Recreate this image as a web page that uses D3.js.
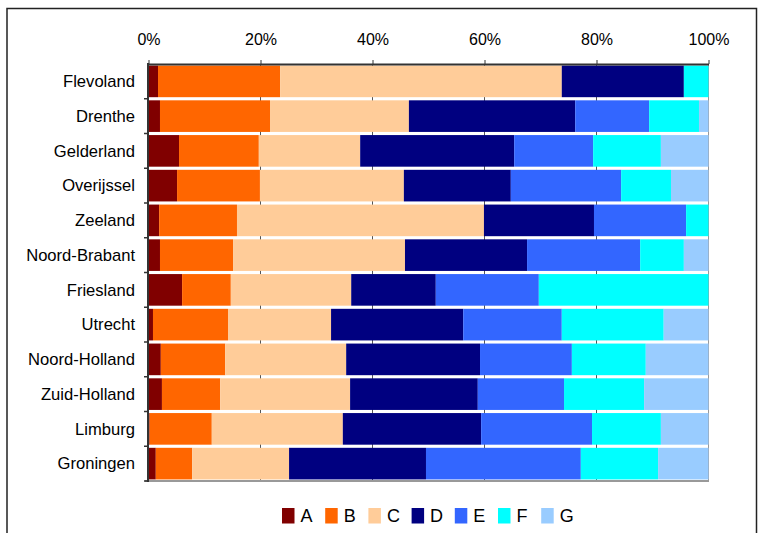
<!DOCTYPE html>
<html>
<head>
<meta charset="utf-8">
<script src="https://cdn.jsdelivr.net/npm/d3@7"></script>
<style>
  html, body { margin: 0; padding: 0; background: #fff; }
  svg { display: block; font-family: "Liberation Sans", Arial, sans-serif; }
</style>
</head>
<body>
<svg id="chart" width="758" height="533"></svg>
<script>
const categories = ["Flevoland","Drenthe","Gelderland","Overijssel","Zeeland","Noord-Brabant","Friesland","Utrecht","Noord-Holland","Zuid-Holland","Limburg","Groningen"];
const seriesNames = ["A","B","C","D","E","F","G"];
const seriesColors = ["#800000","#FF6600","#FFCC99","#000080","#3366FF","#00FFFF","#99CCFF"];
const A = [1.7, 2.05, 5.45, 5.1, 1.9, 2.05, 6.0, 0.8, 2.2, 2.4, 0.2, 1.3];
const B = [21.8, 19.65, 14.25, 14.8, 13.9, 13.05, 8.7, 13.4, 11.5, 10.4, 11.1, 6.5];
const C = [50.3, 24.8, 18.1, 25.7, 44.1, 30.7, 21.5, 18.4, 21.6, 23.2, 23.4, 17.3];
const D = [21.8, 29.7, 27.5, 19.1, 19.65, 21.8, 15.1, 23.6, 23.9, 22.8, 24.7, 24.45];
const E = [0, 13.2, 14.1, 19.7, 16.45, 20.2, 18.4, 17.6, 16.4, 15.4, 19.8, 27.65];
const F = [4.4, 8.9, 12.1, 8.9, 4.0, 7.8, 30.3, 18.2, 13.2, 14.3, 12.3, 13.8];
const G = [0, 1.7, 8.5, 6.7, 0, 4.4, 0, 8.0, 11.2, 11.5, 8.5, 9.0];
const tickValues = [0, 0.2, 0.4, 0.6, 0.8, 1.0];
const tickLabels = ["0%","20%","40%","60%","80%","100%"];

const seriesData = [A, B, C, D, E, F, G];
const table = categories.map((c, i) => {
  const row = { cat: c };
  seriesNames.forEach((s, j) => row[s] = seriesData[j][i]);
  return row;
});

const svg = d3.select("#chart");
const x = d3.scaleLinear().domain([0, 1]).range([148.5, 708.5]);
const y = d3.scaleBand().domain(categories).range([64, 481]).paddingInner(0.09).paddingOuter(0.045);
const color = d3.scaleOrdinal().domain(seriesNames).range(seriesColors);

// outer frame
svg.append("rect").attr("x", 7).attr("y", 8.5).attr("width", 749.5).attr("height", 540)
  .attr("fill", "none").attr("stroke", "#222").attr("stroke-width", 1.5);

// gridlines
svg.append("g").selectAll("line").data(tickValues.slice(1, 5)).join("line")
  .attr("x1", d => x(d)).attr("x2", d => x(d))
  .attr("y1", 64).attr("y2", 481)
  .attr("stroke", "#555").attr("stroke-width", 1);

// right border
svg.append("line").attr("x1", x(1)).attr("x2", x(1)).attr("y1", 64).attr("y2", 481)
  .attr("stroke", "#999").attr("stroke-width", 1);

const stack = d3.stack().keys(seriesNames).offset(d3.stackOffsetExpand);
const stacked = stack(table);

svg.append("g").selectAll("g").data(stacked).join("g")
  .attr("fill", d => color(d.key))
  .selectAll("rect").data(d => d).join("rect")
  .attr("x", d => x(d[0]))
  .attr("width", d => Math.max(0, x(d[1]) - x(d[0])))
  .attr("y", d => y(d.data.cat))
  .attr("height", y.bandwidth());

// bottom gray border
svg.append("line").attr("x1", 145).attr("x2", 709).attr("y1", 481).attr("y2", 481)
  .attr("stroke", "#999").attr("stroke-width", 2);

// top value axis
const xAxis = d3.axisTop(x).tickValues(tickValues).tickFormat((d, i) => tickLabels[i]).tickSize(4).tickSizeOuter(0);
const gx = svg.append("g").attr("transform", "translate(0,64)").call(xAxis);
gx.select(".domain").attr("stroke", "#333").attr("stroke-width", 2);
gx.selectAll(".tick line").attr("stroke", "#333");
gx.selectAll(".tick text").attr("font-size", 16).attr("fill", "#000")
  .attr("font-family", "'Liberation Sans', Arial, sans-serif").attr("y", -19).attr("dy", 0);

// left category axis
svg.append("line").attr("x1", 148).attr("x2", 148).attr("y1", 63).attr("y2", 482)
  .attr("stroke", "#333").attr("stroke-width", 2);
const bounds = categories.map(c => y(c) - y.step() * y.paddingInner() / 2).concat([481]);
svg.append("g").selectAll("line").data(bounds.slice(1)).join("line")
  .attr("x1", 144).attr("x2", 148).attr("y1", d => d).attr("y2", d => d)
  .attr("stroke", "#333").attr("stroke-width", 1.5);
svg.append("g").selectAll("text").data(categories).join("text")
  .attr("x", 135).attr("y", d => y(d) + y.bandwidth() / 2)
  .attr("dy", "0.35em").attr("text-anchor", "end")
  .attr("font-size", 16.6).attr("fill", "#000").text(d => d);

// legend
const lg = svg.append("g").selectAll("g").data(seriesNames).join("g")
  .attr("transform", (d, i) => `translate(${282 + i * 43.2},508)`);
lg.append("rect").attr("width", 12.5).attr("height", 15.5).attr("fill", d => color(d));
lg.append("text").attr("x", 18.5).attr("y", 14).attr("font-size", 18).attr("fill", "#000").text(d => d);
</script>
</body>
</html>
